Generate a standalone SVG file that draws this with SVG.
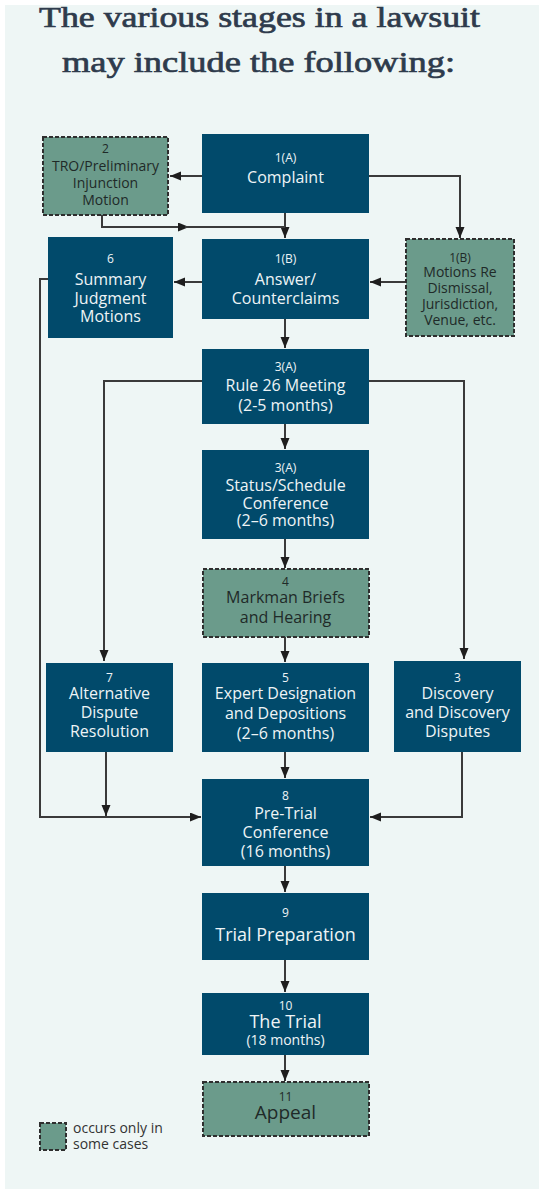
<svg xmlns="http://www.w3.org/2000/svg" width="539" height="1189" viewBox="0 0 539 1189">
<defs>
<style>
.bg{fill:#eef6f5}
.dk{fill:#014a6b}
.op{fill:#6b9b8b;stroke:#2e2e2e;stroke-width:2;stroke-dasharray:4 2}
.tw{font-family:"Open Sans","Liberation Sans",sans-serif;fill:#eef4f6;text-anchor:middle;font-size:16px}
.tg{font-family:"Open Sans","Liberation Sans",sans-serif;fill:#1f2a28;text-anchor:middle;font-size:14px}
.n{font-size:12px}
.c{fill:none;stroke:#3a3a3a;stroke-width:2}
.title{font-family:"Liberation Serif",serif;font-size:30px;fill:#2e3b4c;stroke:#2e3b4c;stroke-width:0.7;text-anchor:middle}
.leg{font-family:"Open Sans","Liberation Sans",sans-serif;font-size:14px;fill:#333}
</style>
<marker id="ah" markerUnits="userSpaceOnUse" markerWidth="12" markerHeight="10" refX="11" refY="4.5" orient="auto">
<path d="M0,0 L11,4.5 L0,9 z" fill="#1e1e1e"/>
</marker>
</defs>
<rect x="0" y="0" width="539" height="1189" fill="#ffffff"/>
<rect class="bg" x="5" y="5" width="534" height="1184"/>
<text class="title" x="259.5" y="27" textLength="441" lengthAdjust="spacingAndGlyphs">The various stages in a lawsuit</text>
<text class="title" x="258.5" y="72" textLength="393" lengthAdjust="spacingAndGlyphs">may include the following:</text>

<g id="connectors">
<path class="c" d="M202,176 H170" marker-end="url(#ah)"/>
<path class="c" d="M369,176 H460 V238" marker-end="url(#ah)"/>
<path class="c" d="M285,213 V238" marker-end="url(#ah)"/>
<path class="c" d="M102,215 V227 H189" marker-end="url(#ah)"/>
<path class="c" d="M185,227 H285"/>
<path class="c" d="M202,282 H174" marker-end="url(#ah)"/>
<path class="c" d="M406,282 H370" marker-end="url(#ah)"/>
<path class="c" d="M285,319 V348" marker-end="url(#ah)"/>
<path class="c" d="M202,381 H104 V661" marker-end="url(#ah)"/>
<path class="c" d="M369,381 H464 V659" marker-end="url(#ah)"/>
<path class="c" d="M285,424 V449" marker-end="url(#ah)"/>
<path class="c" d="M285,539 V568" marker-end="url(#ah)"/>
<path class="c" d="M285,637 V662" marker-end="url(#ah)"/>
<path class="c" d="M285,752 V778" marker-end="url(#ah)"/>
<path class="c" d="M48,279 H40 V817 H201" marker-end="url(#ah)"/>
<path class="c" d="M106,752 V816" marker-end="url(#ah)"/>
<path class="c" d="M462,752 V817 H370" marker-end="url(#ah)"/>
<path class="c" d="M285,866 V892" marker-end="url(#ah)"/>
<path class="c" d="M285,960 V992" marker-end="url(#ah)"/>
<path class="c" d="M285,1055 V1081" marker-end="url(#ah)"/>
</g>

<g id="n1a">
<rect class="dk" x="202" y="134" width="167" height="79"/>
<text class="tw n" x="285.5" y="162">1(A)</text>
<text class="tw" x="285.5" y="183">Complaint</text>
</g>
<g id="n2">
<rect class="op" x="43" y="137" width="125" height="78"/>
<text class="tg n" x="105.5" y="153">2</text>
<text class="tg" x="105.5" y="171">TRO/Preliminary</text>
<text class="tg" x="105.5" y="188">Injunction</text>
<text class="tg" x="105.5" y="205">Motion</text>
</g>
<g id="n1b">
<rect class="dk" x="202" y="239" width="167" height="80"/>
<text class="tw n" x="285.5" y="263">1(B)</text>
<text class="tw" x="285.5" y="285">Answer/</text>
<text class="tw" x="285.5" y="304">Counterclaims</text>
</g>
<g id="n6">
<rect class="dk" x="48" y="237" width="125" height="101"/>
<text class="tw n" x="110.5" y="263">6</text>
<text class="tw" x="110.5" y="285">Summary</text>
<text class="tw" x="110.5" y="304">Judgment</text>
<text class="tw" x="110.5" y="322">Motions</text>
</g>
<g id="n1bm">
<rect class="op" x="406" y="239" width="108" height="97"/>
<text class="tg n" x="460" y="262">1(B)</text>
<text class="tg" x="460" y="277">Motions Re</text>
<text class="tg" x="460" y="293">Dismissal,</text>
<text class="tg" x="460" y="309">Jurisdiction,</text>
<text class="tg" x="460" y="325">Venue, etc.</text>
</g>
<g id="n3a1">
<rect class="dk" x="202" y="349" width="167" height="75"/>
<text class="tw n" x="285.5" y="371">3(A)</text>
<text class="tw" x="285.5" y="391">Rule 26 Meeting</text>
<text class="tw" x="285.5" y="411">(2-5 months)</text>
</g>
<g id="n3a2">
<rect class="dk" x="202" y="450" width="167" height="89"/>
<text class="tw n" x="285.5" y="472">3(A)</text>
<text class="tw" x="285.5" y="491">Status/Schedule</text>
<text class="tw" x="285.5" y="509">Conference</text>
<text class="tw" x="285.5" y="526">(2–6 months)</text>
</g>
<g id="n4">
<rect class="op" x="203" y="569" width="166" height="68"/>
<text class="tg n" x="285.5" y="586">4</text>
<text class="tg" x="285.5" y="603" style="font-size:16px">Markman Briefs</text>
<text class="tg" x="285.5" y="623" style="font-size:16px">and Hearing</text>
</g>
<g id="n7">
<rect class="dk" x="46" y="663" width="127" height="89"/>
<text class="tw n" x="109.5" y="682">7</text>
<text class="tw" x="109.5" y="699">Alternative</text>
<text class="tw" x="109.5" y="718">Dispute</text>
<text class="tw" x="109.5" y="737">Resolution</text>
</g>
<g id="n5">
<rect class="dk" x="202" y="663" width="167" height="89"/>
<text class="tw n" x="285.5" y="682">5</text>
<text class="tw" x="285.5" y="699">Expert Designation</text>
<text class="tw" x="285.5" y="719">and Depositions</text>
<text class="tw" x="285.5" y="739">(2–6 months)</text>
</g>
<g id="n3">
<rect class="dk" x="394" y="661" width="127" height="91"/>
<text class="tw n" x="457.5" y="682">3</text>
<text class="tw" x="457.5" y="699">Discovery</text>
<text class="tw" x="457.5" y="718">and Discovery</text>
<text class="tw" x="457.5" y="737">Disputes</text>
</g>
<g id="n8">
<rect class="dk" x="202" y="779" width="167" height="87"/>
<text class="tw n" x="285.5" y="800">8</text>
<text class="tw" x="285.5" y="819">Pre-Trial</text>
<text class="tw" x="285.5" y="838">Conference</text>
<text class="tw" x="285.5" y="857">(16 months)</text>
</g>
<g id="n9">
<rect class="dk" x="202" y="893" width="167" height="67"/>
<text class="tw n" x="285.5" y="917">9</text>
<text class="tw" x="285.5" y="941" style="font-size:18px">Trial Preparation</text>
</g>
<g id="n10">
<rect class="dk" x="202" y="993" width="167" height="62"/>
<text class="tw n" x="285.5" y="1010">10</text>
<text class="tw" x="285.5" y="1028" style="font-size:18px">The Trial</text>
<text class="tw" x="285.5" y="1045" style="font-size:14px">(18 months)</text>
</g>
<g id="n11">
<rect class="op" x="203" y="1082" width="166" height="54"/>
<text class="tg n" x="285.5" y="1101">11</text>
<text class="tg" x="285.5" y="1119" style="font-size:19px">Appeal</text>
</g>
<g id="legend">
<rect class="op" x="40" y="1123" width="26" height="27"/>
<text class="leg" x="73" y="1133">occurs only in</text>
<text class="leg" x="73" y="1149">some cases</text>
</g>
</svg>
